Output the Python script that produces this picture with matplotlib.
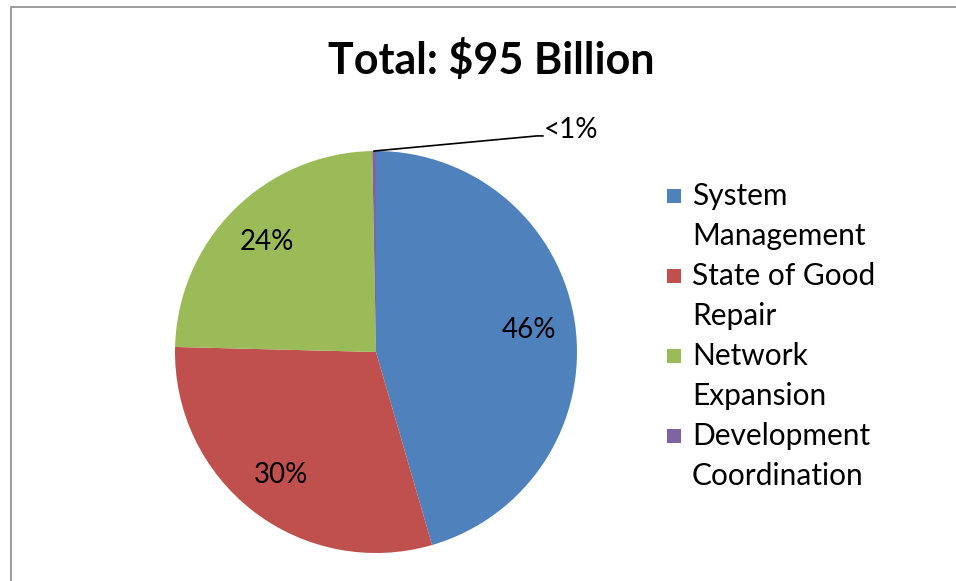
import textwrap
import numpy as np
import matplotlib
matplotlib.use("Agg")
import matplotlib.pyplot as plt
from matplotlib.patches import Rectangle

# ── Data ────────────────────────────────────────────────────────────
categories = ["System Management", "State of Good Repair",
              "Network Expansion", "Development Coordination"]
shares = [45.5, 29.9, 24.3, 0.3]
pct_labels = ["46%", "30%", "24%", "<1%"]
colors = ["#4F81BD", "#C0504D", "#9BBB59", "#8064A2"]
title = "Total: \\$95 Billion"

plt.rcParams["font.family"] = ["Lato", "DejaVu Sans"]

W, H = 956, 581
fig = plt.figure(figsize=(W / 100, H / 100), dpi=100)

# chart border (Excel style, clipped at right/bottom)
fig.add_artist(Rectangle((11 / W, -0.1), 1.2, 1.1 - 7 / H, transform=fig.transFigure,
                         fill=False, edgecolor="#8C8C8C", linewidth=1.2))

# ── Pie ─────────────────────────────────────────────────────────────
cx, cy, r = 376, 352, 201
ax = fig.add_axes([(cx - r) / W, 1 - (cy + r) / H, 2 * r / W, 2 * r / H])
wedges, _ = ax.pie(shares, colors=colors, startangle=90, counterclock=False,
                   wedgeprops=dict(linewidth=0))
ax.set_xlim(-1, 1)
ax.set_ylim(-1, 1)
ax.set_aspect("equal")

for w, lab in zip(wedges[:3], pct_labels[:3]):
    ang = np.deg2rad((w.theta1 + w.theta2) / 2)
    ax.text(0.77 * np.cos(ang), 0.77 * np.sin(ang), lab, ha="center", va="center",
            fontsize=20, color="black")

# small slice with leader line
w = wedges[3]
ang = np.deg2rad((w.theta1 + w.theta2) / 2)
x0, y0 = np.cos(ang), np.sin(ang)
ax.plot([x0, 0.80, 0.83], [y0, 1.075, 1.075], color="black", lw=1.2, clip_on=False)
ax.text(0.835, 1.105, pct_labels[3], ha="left", va="center", fontsize=20)

# ── Title ───────────────────────────────────────────────────────────
fig.text(491 / W, 1 - 60 / H, title, ha="center", va="center",
         fontsize=31, fontweight="bold")

# ── Legend (square marker on first line of each wrapped label) ──────
for i, (name, col) in enumerate(zip(categories, colors)):
    ytop = 196 + i * 80
    fig.add_artist(Rectangle((667 / W, 1 - (ytop + 7) / H), 14 / W, 14 / H,
                             transform=fig.transFigure, facecolor=col, edgecolor="none"))
    for j, line in enumerate(textwrap.wrap(name, 13)):
        fig.text(692 / W, 1 - (ytop + j * 40) / H, line, ha="left", va="center",
                 fontsize=21.5)

fig.savefig("out.png", dpi=100)
